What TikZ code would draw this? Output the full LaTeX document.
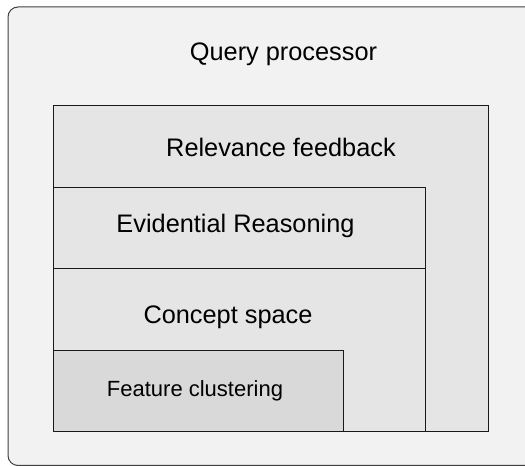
\documentclass[tikz,border=0pt]{standalone}
\usepackage{fontspec}
\setmainfont{Liberation Sans}
\begin{document}
\begin{tikzpicture}
[x=0.75pt,y=-0.75pt,
  outerbox/.style={draw=black!75,line width=0.75pt,fill=black!5,rounded corners=7.5pt},%
  layerbox/.style={draw=black!90,line width=0.75pt,fill=black!10},
  corebox/.style={draw=black!90,line width=0.75pt,fill=black!15},
  bigtext/.style={anchor=base,inner sep=0pt,font=\fontsize{19}{23}\selectfont},
  smalltext/.style={anchor=base,inner sep=0pt,font=\fontsize{16.5}{20}\selectfont}]
\useasboundingbox (0,0) rectangle (525,466);
% boxes
% outer query processor frame
\draw[outerbox] (8,7) rectangle (536,465.5);
% relevance feedback layer
\draw[layerbox] (53,106) rectangle (488,432);
% evidential reasoning layer
\draw[layerbox] (53,188) rectangle (425,432);
% concept space layer
\draw[layerbox] (53,269) rectangle (425,432);
% feature clustering core
\draw[corebox] (53,351) rectangle (343,432);
% labels
\node (query) at (283.5,60.5) [bigtext] {Query processor};
\node (relevance) at (281,156.5) [bigtext] {Relevance feedback};
\node (evidential) at (235.5,233) [bigtext] {Evidential Reasoning};
\node (concept) at (228,324) [bigtext] {Concept space};
\node (feature) at (195,396.5) [smalltext] {Feature clustering};
\end{tikzpicture}
\end{document}
